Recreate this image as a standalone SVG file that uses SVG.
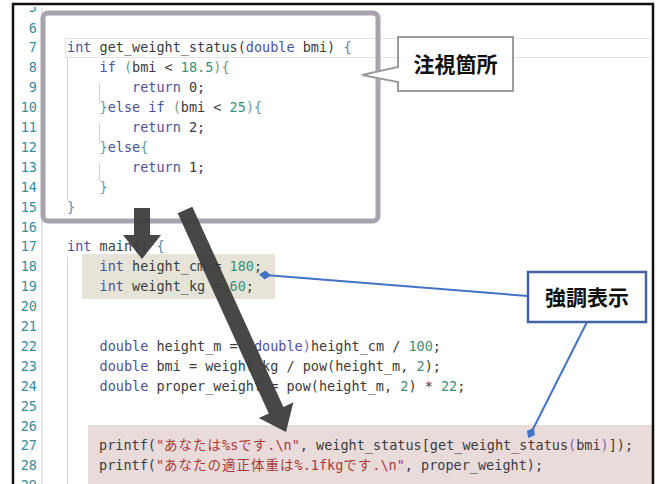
<svg xmlns="http://www.w3.org/2000/svg" width="657" height="484" viewBox="0 0 657 484">
<style>
.code{font-family:"DejaVu Sans Mono","Noto Sans CJK JP",monospace;font-size:13.5px;fill:#3c3c3c}
.ln{font-family:"DejaVu Sans Mono",monospace;font-size:13.5px;fill:#3b8b9b;text-anchor:end}
.kw{fill:#4f519a}
.num{fill:#3f8f74}
.str{fill:#a53a3a}
.b1{fill:#6d9a8a}
.b2{fill:#6a84aa}
.b3{fill:#8663a8}
.jp{letter-spacing:1px}
.guide{stroke:#d4d4d4;stroke-width:1}
.call{font-family:"Noto Sans CJK JP",sans-serif;font-weight:bold;font-size:21px;fill:#111;text-anchor:middle}
.blue{stroke:#4472c4;stroke-width:2;fill:none}
.arrow{fill:#3d3d3d;opacity:0.95}
</style>
<defs>
<clipPath id="frame"><rect x="14" y="7" width="638" height="477"/></clipPath>
<marker id="dia" viewBox="-6 -5 12 10" markerWidth="12" markerHeight="10" refX="0" refY="0" orient="auto" markerUnits="userSpaceOnUse">
<path d="M-6,0 L0,-4.5 L6,0 L0,4.5 Z" fill="#4472c4"/>
</marker>
</defs>
<rect width="657" height="484" fill="#ffffff"/>
<g id="editor" clip-path="url(#frame)">
<line x1="42" y1="0" x2="42" y2="484" stroke="#e6e6e6" stroke-width="2"/>
<rect id="hl-vars" x="82" y="254" width="193" height="45" fill="#e6e4d8"/>
<rect id="hl-printf" x="88" y="425" width="565" height="59" fill="#eadbdb"/>
<rect id="curline" x="65.5" y="38.5" width="600" height="19" fill="none" stroke="#e2e2e2" stroke-width="1"/>
<line class="guide" x1="67.5" y1="57" x2="67.5" y2="201"/>
<line class="guide" x1="99.5" y1="82" x2="99.5" y2="102"/>
<line class="guide" x1="99.5" y1="122" x2="99.5" y2="142"/>
<line class="guide" x1="99.5" y1="162" x2="99.5" y2="181"/>
<line class="guide" x1="67.5" y1="257" x2="67.5" y2="484"/>
<g id="linenumbers">
<text class="ln" x="37" y="11.6">5</text>
<text class="ln" x="37" y="32.5">6</text>
<text class="ln" x="37" y="52.4">7</text>
<text class="ln" x="37" y="72.3">8</text>
<text class="ln" x="37" y="92.2">9</text>
<text class="ln" x="37" y="112.1">10</text>
<text class="ln" x="37" y="132">11</text>
<text class="ln" x="37" y="151.9">12</text>
<text class="ln" x="37" y="171.8">13</text>
<text class="ln" x="37" y="191.7">14</text>
<text class="ln" x="37" y="211.6">15</text>
<text class="ln" x="37" y="231.5">16</text>
<text class="ln" x="37" y="251.4">17</text>
<text class="ln" x="37" y="271.3">18</text>
<text class="ln" x="37" y="291.2">19</text>
<text class="ln" x="37" y="311.1">20</text>
<text class="ln" x="37" y="331">21</text>
<text class="ln" x="37" y="350.9">22</text>
<text class="ln" x="37" y="370.8">23</text>
<text class="ln" x="37" y="390.7">24</text>
<text class="ln" x="37" y="410.6">25</text>
<text class="ln" x="37" y="430.5">26</text>
<text class="ln" x="37" y="450.4">27</text>
<text class="ln" x="37" y="470.3">28</text>
<text class="ln" x="37" y="490.2">29</text>
</g>
<g id="code">
<text class="code" x="67" y="52.4"><tspan class="kw">int</tspan> get_weight_status(<tspan class="kw">double</tspan> bmi) <tspan class="b2">{</tspan></text>
<text class="code" x="99.5" y="72.3"><tspan class="kw">if</tspan> <tspan class="b1">(</tspan>bmi &lt; <tspan class="num">18.5</tspan><tspan class="b1">){</tspan></text>
<text class="code" x="132" y="92.2"><tspan class="kw">return</tspan> 0;</text>
<text class="code" x="99.5" y="112.1"><tspan class="b1">}</tspan><tspan class="kw">else if</tspan> <tspan class="b1">(</tspan>bmi &lt; <tspan class="num">25</tspan><tspan class="b1">){</tspan></text>
<text class="code" x="132" y="132"><tspan class="kw">return</tspan> 2;</text>
<text class="code" x="99.5" y="151.9"><tspan class="b1">}</tspan><tspan class="kw">else</tspan><tspan class="b1">{</tspan></text>
<text class="code" x="132" y="171.8"><tspan class="kw">return</tspan> 1;</text>
<text class="code" x="99.5" y="191.7"><tspan class="b1">}</tspan></text>
<text class="code" x="67" y="211.6"><tspan class="b2">}</tspan></text>
<text class="code" x="67" y="251.4"><tspan class="kw">int</tspan> main() <tspan class="b2">{</tspan></text>
<text class="code" x="99.5" y="271.3"><tspan class="kw">int</tspan> height_cm = <tspan class="num">180</tspan>;</text>
<text class="code" x="99.5" y="291.2"><tspan class="kw">int</tspan> weight_kg = <tspan class="num">60</tspan>;</text>
<text class="code" x="99.5" y="350.9"><tspan class="kw">double</tspan> height_m = <tspan class="b3">(</tspan><tspan class="kw">double</tspan><tspan class="b3">)</tspan>height_cm / <tspan class="num">100</tspan>;</text>
<text class="code" x="99.5" y="370.8"><tspan class="kw">double</tspan> bmi = weight_kg / pow(height_m, <tspan class="num">2</tspan>);</text>
<text class="code" x="99.5" y="390.7"><tspan class="kw">double</tspan> proper_weight = pow(height_m, <tspan class="num">2</tspan>) * <tspan class="num">22</tspan>;</text>
<text class="code" x="99" y="450.4">printf(<tspan class="str">"<tspan class="jp">あなたは</tspan>%s<tspan class="jp">です</tspan>.\n"</tspan>, weight_status[get_weight_status<tspan class="b3">(</tspan>bmi<tspan class="b3">)</tspan>]);</text>
<text class="code" x="99" y="470.3">printf(<tspan class="str">"<tspan class="jp">あなたの適正体重は</tspan>%.1fkg<tspan class="jp">です</tspan>.\n"</tspan>, proper_weight);</text>
</g>
</g>
<g id="focus-area">
<rect x="43" y="13" width="335" height="208" rx="5" ry="5" fill="none" stroke="#a8a3ac" stroke-width="5"/>
</g>
<g id="connectors">
<polygon id="arrow-down" class="arrow" points="134,208 150,208 150,235 161,235 142,259 123,235 134,235"/>
<polygon id="arrow-diag" class="arrow" points="177.7,213.3 192.3,206.7 283.4,406.9 293.4,402.3 286,432 258.8,418.1 268.8,413.5"/>
<line class="blue" x1="265" y1="275" x2="528" y2="296" marker-start="url(#dia)"/>
<line class="blue" x1="587" y1="322" x2="531" y2="433" marker-end="url(#dia)"/>
</g>
<g id="callout-focus">
<path d="M398,37 H513 V91 H398 V82 L362,75 L398,67 Z" fill="#ffffff" stroke="#9b9b9b" stroke-width="2" stroke-linejoin="miter"/>
<text class="call" x="455.5" y="71.5">注視箇所</text>
</g>
<g id="callout-emphasis">
<rect x="528" y="272" width="118" height="50" fill="#ffffff" stroke="#41639f" stroke-width="2.5"/>
<text class="call" x="587" y="304.5">強調表示</text>
</g>
<g id="border">
<path d="M13,490 V4 H653 V490" fill="none" stroke="#111111" stroke-width="2.5"/>
</g>
</svg>
